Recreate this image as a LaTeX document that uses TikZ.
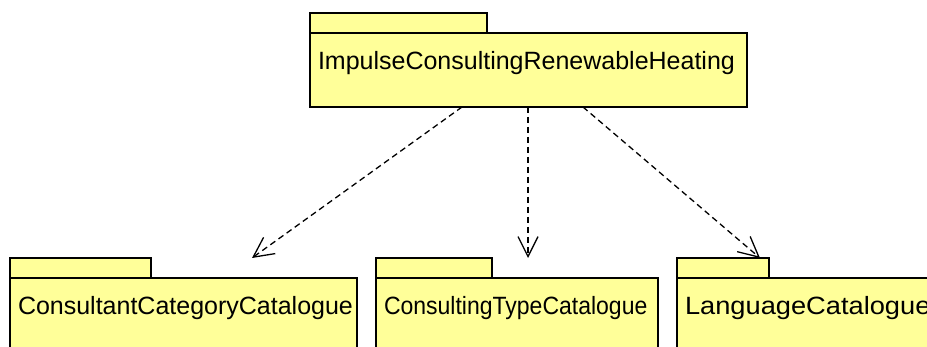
\documentclass[tikz,border=0pt]{standalone}
\usepackage{fontspec}
\setmainfont{Liberation Sans}
\newfontfamily\narrowpkg[FakeStretch=0.92]{Liberation Sans}
\newfontfamily\widepkg[FakeStretch=1.09]{Liberation Sans}
\usetikzlibrary{arrows.meta}

\definecolor{pkgyellow}{RGB}{255,255,153}

\begin{document}
\begin{tikzpicture}[x=1pt,y=-1pt,
  pkgtab/.style={draw,fill=pkgyellow,line width=1.6pt,outer sep=0pt,inner sep=0pt,
    minimum height=20pt,anchor=south west},
  pkgbody/.style={draw,fill=pkgyellow,line width=1.6pt,outer sep=0pt,anchor=north west,
    inner xsep=8pt,inner ysep=0pt,align=left,text height=36.5pt,
    font=\fontsize{25}{30}\selectfont},
  dep/.style={line width=1.3pt,dash pattern=on 6pt off 4pt,
    -{Straight Barb[length=20pt,width=20pt,line width=1.3pt]}}]

\useasboundingbox (0,0) rectangle (927,347);
\clip (0,0) rectangle (927,347);

\node[pkgbody,text width=421pt,text depth=37.5pt] (irh) at (310,33) {ImpulseConsultingRenewableHeating};
\node[pkgtab,minimum width=177pt] (irh tab) at (irh.north west) {};

\node[pkgbody,text width=331pt,text depth=45pt] (ccc) at (10,278) {ConsultantCategoryCatalogue};
\node[pkgtab,minimum width=141pt] (ccc tab) at (ccc.north west) {};

\node[pkgbody,text width=266pt,text depth=45pt] (ctc) at (376,278) {\narrowpkg ConsultingTypeCatalogue};
\node[pkgtab,minimum width=116pt] (ctc tab) at (ctc.north west) {};

\node[pkgbody,text width=260pt,text depth=45pt] (lc) at (677,278) {\widepkg LanguageCatalogue};
\node[pkgtab,minimum width=92pt] (lc tab) at (lc.north west) {};

% dependency ends
\coordinate (ccc in) at (252,258);
\coordinate (ctc in) at (528,258);
\coordinate (lc in) at (760,258);

\draw[dep] ([xshift=-66.5pt]irh.south) -- (ccc in);
\draw[dep] ([xshift=-0.5pt]irh.south) -- (ctc in);
\draw[dep] ([xshift=54.5pt]irh.south) -- (lc in);

\end{tikzpicture}
\end{document}
